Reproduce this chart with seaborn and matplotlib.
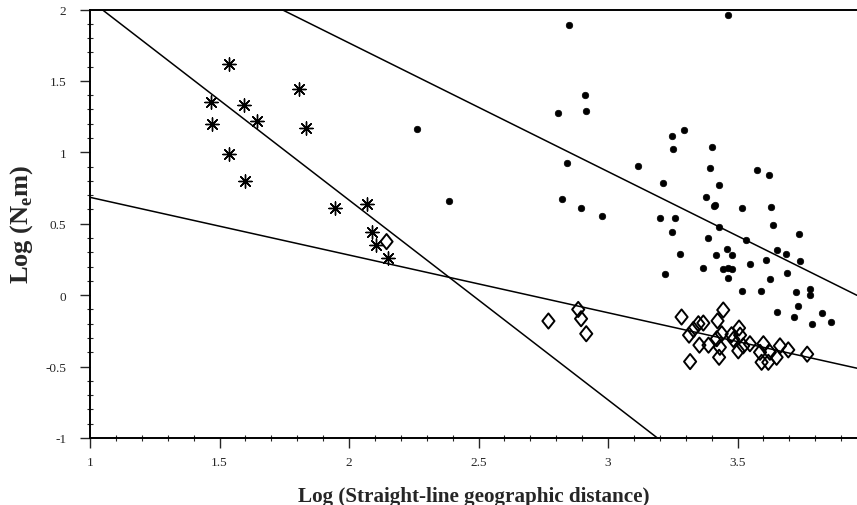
import numpy as np
import pandas as pd
import matplotlib
matplotlib.use("Agg")
import matplotlib.pyplot as plt
from matplotlib.path import Path
from matplotlib.ticker import FixedLocator, MultipleLocator
import seaborn as sns

# asterisks (short distances)
star_x = [1.535, 1.467, 1.471, 1.596, 1.645, 1.535, 1.598, 1.806, 1.834,
          1.946, 2.069, 2.090, 2.105, 2.149]
star_y = [1.62, 1.35, 1.195, 1.334, 1.217, 0.985, 0.80, 1.445, 1.17,
          0.613, 0.638, 0.445, 0.352, 0.259]

# filled dots
dot_x = [2.261, 2.386, 2.851, 3.464, 2.912, 2.915, 2.807, 2.843, 2.824, 2.896,
         2.975, 3.114, 3.212, 3.247, 3.251, 3.292, 3.202, 3.257, 3.247, 3.279,
         3.401, 3.395, 3.428, 3.379, 3.408, 3.415, 3.519, 3.577, 3.623, 3.628,
         3.637, 3.427, 3.386, 3.532, 3.460, 3.417, 3.479, 3.651, 3.686, 3.739,
         3.220, 3.368, 3.445, 3.462, 3.477, 3.464, 3.547, 3.610, 3.740, 3.693,
         3.627, 3.519, 3.592, 3.726, 3.781, 3.778, 3.735, 3.651, 3.717, 3.825,
         3.788, 3.860]
dot_y = [1.16, 0.662, 1.89, 1.96, 1.40, 1.29, 1.276, 0.924, 0.67, 0.61,
         0.557, 0.901, 0.787, 1.117, 1.025, 1.157, 0.538, 0.538, 0.44, 0.289,
         1.036, 0.892, 0.773, 0.685, 0.624, 0.629, 0.608, 0.873, 0.843, 0.62,
         0.49, 0.475, 0.40, 0.383, 0.322, 0.282, 0.278, 0.313, 0.285, 0.428,
         0.149, 0.187, 0.182, 0.187, 0.182, 0.117, 0.217, 0.247, 0.24, 0.155,
         0.115, 0.031, 0.031, 0.022, 0.043, -0.001, -0.078, -0.118, -0.151, -0.125,
         -0.201, -0.19]

# open diamonds
dia_x = [2.145, 2.770, 2.885, 2.896, 2.916,
         3.284, 3.445, 3.423, 3.368, 3.349, 3.330, 3.313, 3.353, 3.388, 3.432,
         3.420, 3.439, 3.506, 3.484, 3.510, 3.503, 3.522, 3.548, 3.429, 3.317,
         3.600, 3.587, 3.593, 3.619, 3.625, 3.651, 3.664, 3.696, 3.769, 3.477]
dia_y = [0.375, -0.181, -0.10, -0.165, -0.27,
         -0.153, -0.104, -0.18, -0.195, -0.20, -0.24, -0.28, -0.35, -0.35, -0.365,
         -0.305, -0.27, -0.23, -0.31, -0.28, -0.39, -0.355, -0.34, -0.435, -0.465,
         -0.34, -0.40, -0.47, -0.47, -0.40, -0.435, -0.355, -0.383, -0.413, -0.277]

# fitted lines: (intercept at x=0, slope)
line_params = [(3.464, -1.399), (3.568, -0.901), (1.089, -0.404)]

x_ticks = [1, 1.5, 2, 2.5, 3, 3.5]
x_labels = ["1", "1.5", "2", "2.5", "3", "3.5"]
y_ticks = [-1, -0.5, 0, 0.5, 1, 1.5, 2]
y_labels = ["-1", "-0.5", "0", "0.5", "1", "1.5", "2"]

sns.set_style("ticks")
plt.rcParams['font.family'] = ['Liberation Serif', 'DejaVu Serif']
plt.rcParams['axes.unicode_minus'] = False

fig = plt.figure(figsize=(8.57, 5.06), dpi=100)
ax = fig.add_axes([90 / 857, 1 - 439 / 506, 1 - 90 / 857, (439 - 10.5) / 506])

for b, m in line_params:
    ax.axline((0, b), slope=m, color="black", linewidth=1.1, zorder=1)

diamond = Path([(0, 1), (0.8, 0), (0, -1), (-0.8, 0), (0, 1)],
               [Path.MOVETO, Path.LINETO, Path.LINETO, Path.LINETO, Path.CLOSEPOLY])

sns.scatterplot(x=dot_x, y=dot_y, ax=ax, color="black", s=22,
                edgecolor="black", linewidth=0.5, zorder=3)
sns.scatterplot(x=star_x, y=star_y, ax=ax, marker=(8, 2, 0), s=90,
                color="black", edgecolor="black", linewidth=1.0, zorder=3)
ax.scatter(dia_x, dia_y, marker=diamond, s=120, facecolors="none",
           edgecolors="black", linewidths=1.4, zorder=3)

ax.set_xlim(1, 1 + 767 / 259)
ax.set_ylim(-1, 2)
ax.xaxis.set_major_locator(FixedLocator(x_ticks))
ax.set_xticklabels(x_labels)
ax.yaxis.set_major_locator(FixedLocator(y_ticks))
ax.set_yticklabels(y_labels)
ax.xaxis.set_minor_locator(MultipleLocator(0.1))
ax.yaxis.set_minor_locator(MultipleLocator(0.1))
ax.tick_params(which="major", direction="out", length=7, width=1,
               labelsize=9.5)
ax.tick_params(axis="x", which="major", pad=6)
ax.tick_params(axis="y", which="major", pad=10)
ax.tick_params(which="minor", direction="inout", length=5, width=0.8)

for side in ["left", "bottom", "top"]:
    ax.spines[side].set_linewidth(1.4)
    ax.spines[side].set_color("black")
ax.spines["right"].set_visible(False)

ax.set_xlabel("Log (Straight-line geographic distance)", fontsize=15.2,
              fontweight="bold")
ax.set_ylabel("Log (N$_{\\mathregular{e}}$m)", fontsize=19,
              fontweight="bold")
ax.xaxis.set_label_coords(0.5, -0.112)
ax.yaxis.set_label_coords(-0.072, 0.5)

fig.savefig("out.png", dpi=100)
